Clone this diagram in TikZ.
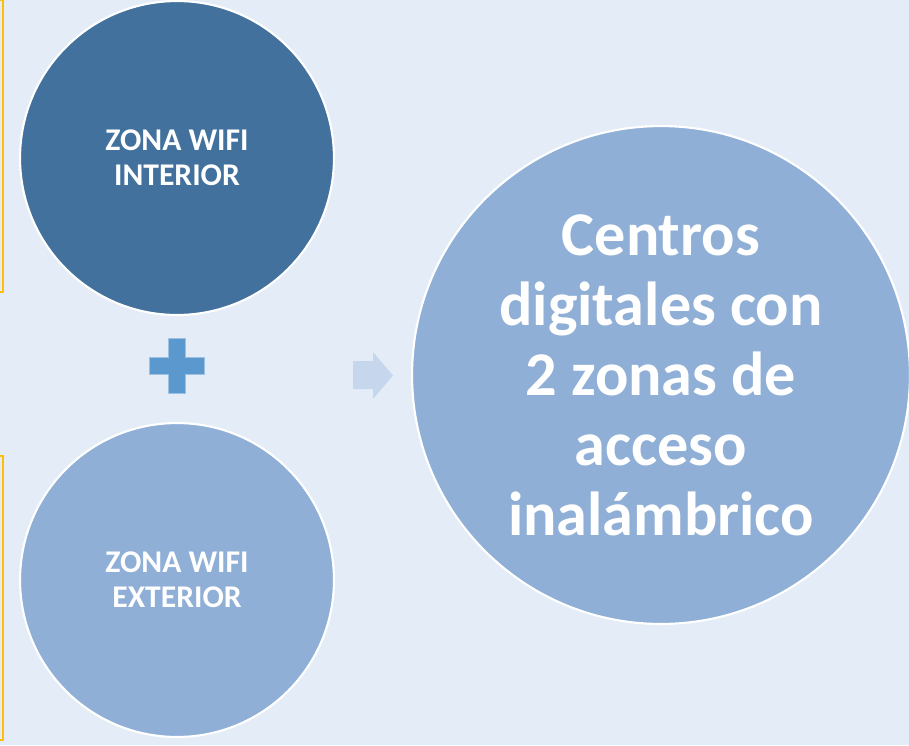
\documentclass[tikz,border=0pt]{standalone}
\usepackage{fontspec}
\setmainfont{Carlito}
\usepackage{tikz}
\definecolor{bgblue}{RGB}{228,236,247}
\definecolor{darkzone}{RGB}{65,113,156}
\definecolor{lightzone}{RGB}{143,175,214}
\definecolor{plusblue}{RGB}{91,152,206}
\definecolor{arrowblue}{RGB}{198,214,236}
\definecolor{bracketyellow}{RGB}{255,192,0}
\tikzset{zone/.style = {circle, draw=white, line width=1.2pt, inner sep=0,
                        minimum size=6.28cm, text=white, align=center,
                        font=\fontsize{18}{19.9}\selectfont\bfseries}}
\tikzset{bigzone/.style = {zone, fill=lightzone, minimum size=9.96cm,
                           font=\fontsize{35.4}{39.8}\selectfont\bfseries}}
\tikzset{brk/.style = {draw=bracketyellow, line width=1.4pt}}

\begin{document}
\begin{tikzpicture}[x=0.02cm, y=-0.02cm]
      \fill [bgblue] (0, 0) rectangle (909, 745);
      \useasboundingbox (0, 0) rectangle (909, 745);

      \draw [brk] (0, 0) -- (3, 0) -- (3, 292) -- (0, 292);
      \draw [brk] (0, 456) -- (3, 456) -- (3, 740) -- (0, 740);

      \node [zone, fill=darkzone] (interior) at (177, 158) {ZONA WIFI\\INTERIOR};
      \node [zone, fill=lightzone] (exterior) at (177, 580) {ZONA WIFI\\EXTERIOR};
      \node [bigzone] (centros) at (661, 375) {Centros\\digitales con\\2 zonas de\\acceso\\inalámbrico};

      \fill [plusblue, draw=plusblue!60!white, line width=0.4pt]
            (168, 338) -- (185, 338) -- (185, 357) -- (204, 357) -- (204, 374) -- (185, 374)
            -- (185, 393) -- (168, 393) -- (168, 374) -- (149, 374) -- (149, 357) -- (168, 357) -- cycle;
      \fill [arrowblue] (353, 361) -- (373, 361) -- (373, 352) -- (393, 375.5)
            -- (373, 399) -- (373, 389) -- (353, 389) -- cycle;
    \end{tikzpicture}
\end{document}
